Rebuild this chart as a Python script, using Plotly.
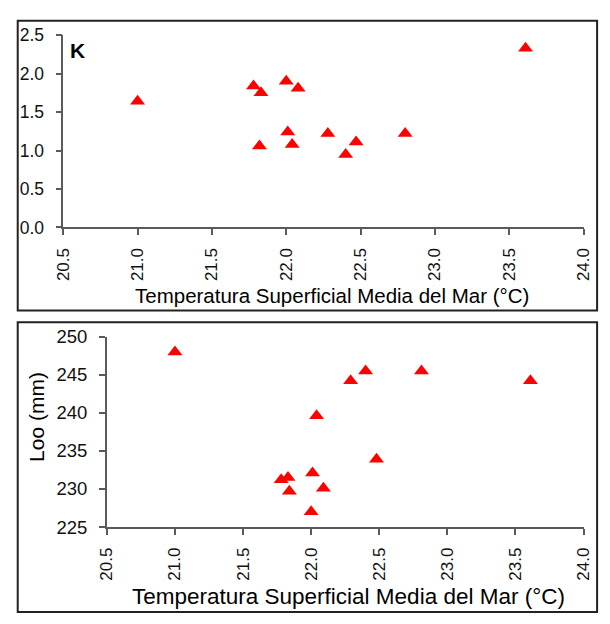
import plotly.graph_objects as go

# Data
temp_k = [21.00, 21.78, 21.83, 22.00, 22.08, 22.01, 21.82, 22.04, 22.28, 22.40, 22.47, 22.80, 23.61]
k_vals = [1.64, 1.84, 1.75, 1.90, 1.81, 1.24, 1.06, 1.08, 1.22, 0.95, 1.11, 1.22, 2.33]

temp_loo = [21.00, 21.78, 21.83, 21.84, 22.00, 22.01, 22.04, 22.09, 22.29, 22.40, 22.48, 22.81, 23.61]
loo_vals = [248.0, 231.2, 231.5, 229.7, 227.0, 232.1, 239.6, 230.1, 244.2, 245.5, 233.9, 245.5, 244.2]

x_ticks = [20.5, 21.0, 21.5, 22.0, 22.5, 23.0, 23.5, 24.0]
k_ticks = [0.0, 0.5, 1.0, 1.5, 2.0, 2.5]
loo_ticks = [225, 230, 235, 240, 245, 250]

x_title = "Temperatura Superficial Media del Mar (°C)"
FONT = "Arial, Liberation Sans, sans-serif"
W, H = 610, 624

def px(x):
    return x / W

def py(y):
    return 1 - y / H

fig = go.Figure()
marker = dict(symbol="triangle-up", size=13, color="#ff0000", line=dict(width=0))
fig.add_trace(go.Scatter(x=temp_k, y=k_vals, mode="markers", marker=marker,
                         xaxis="x", yaxis="y", showlegend=False))
fig.add_trace(go.Scatter(x=temp_loo, y=loo_vals, mode="markers", marker=marker,
                         xaxis="x2", yaxis="y2", showlegend=False))

def axis_common(size):
    return dict(showline=True, linecolor="#5a5a5a", linewidth=1.5, ticks="outside",
                ticklen=6, tickwidth=1.5, tickcolor="#5a5a5a", showgrid=False,
                zeroline=False, tickfont=dict(family=FONT, size=size, color="#111"))

fig.update_layout(
    width=W, height=H, margin=dict(l=0, r=0, t=0, b=0),
    paper_bgcolor="white", plot_bgcolor="white",
    xaxis=dict(domain=[px(56), px(593)], range=[20.5, 24.0], tickvals=x_ticks,
               tickformat=".1f", tickangle=-90, anchor="y", ticklabelstandoff=6, **axis_common(17)),
    yaxis=dict(domain=[py(224), py(25)], range=[0, 2.5], tickvals=k_ticks,
               tickformat=".1f", anchor="x", ticklabelstandoff=8, **axis_common(17.5)),
    xaxis2=dict(domain=[px(101), px(593)], range=[20.5, 24.0], tickvals=x_ticks,
                tickformat=".1f", tickangle=-90, anchor="y2", ticklabelstandoff=6, **axis_common(17)),
    yaxis2=dict(domain=[py(534), py(337)], range=[225, 250], tickvals=loo_ticks,
                anchor="x2", ticklabelstandoff=8, **axis_common(18.5)),
)

fig.add_annotation(text="<b>K</b>", xref="paper", yref="paper", x=px(61), y=py(41),
                   xanchor="left", yanchor="middle", showarrow=False,
                   font=dict(family=FONT, size=21, color="#000"))
fig.add_annotation(text=x_title, xref="paper", yref="paper", x=px(333), y=py(294),
                   xanchor="center", yanchor="middle", showarrow=False,
                   font=dict(family=FONT, size=20.5, color="#000"))
fig.add_annotation(text=x_title, xref="paper", yref="paper", x=px(350), y=py(606),
                   xanchor="center", yanchor="middle", showarrow=False,
                   font=dict(family=FONT, size=22.5, color="#000"))
fig.add_annotation(text="Loo (mm)", xref="paper", yref="paper", x=px(29), y=py(420),
                   xanchor="center", yanchor="middle", showarrow=False, textangle=-90,
                   font=dict(family=FONT, size=21, color="#000"))

# panel frames
fig.add_shape(type="rect", xref="paper", yref="paper", x0=px(9), x1=px(607), y0=py(310), y1=py(10),
              line=dict(color="#222", width=2))
fig.add_shape(type="rect", xref="paper", yref="paper", x0=px(9), x1=px(607), y0=py(622), y1=py(322),
              line=dict(color="#222", width=2))

fig.write_html("out.html")
